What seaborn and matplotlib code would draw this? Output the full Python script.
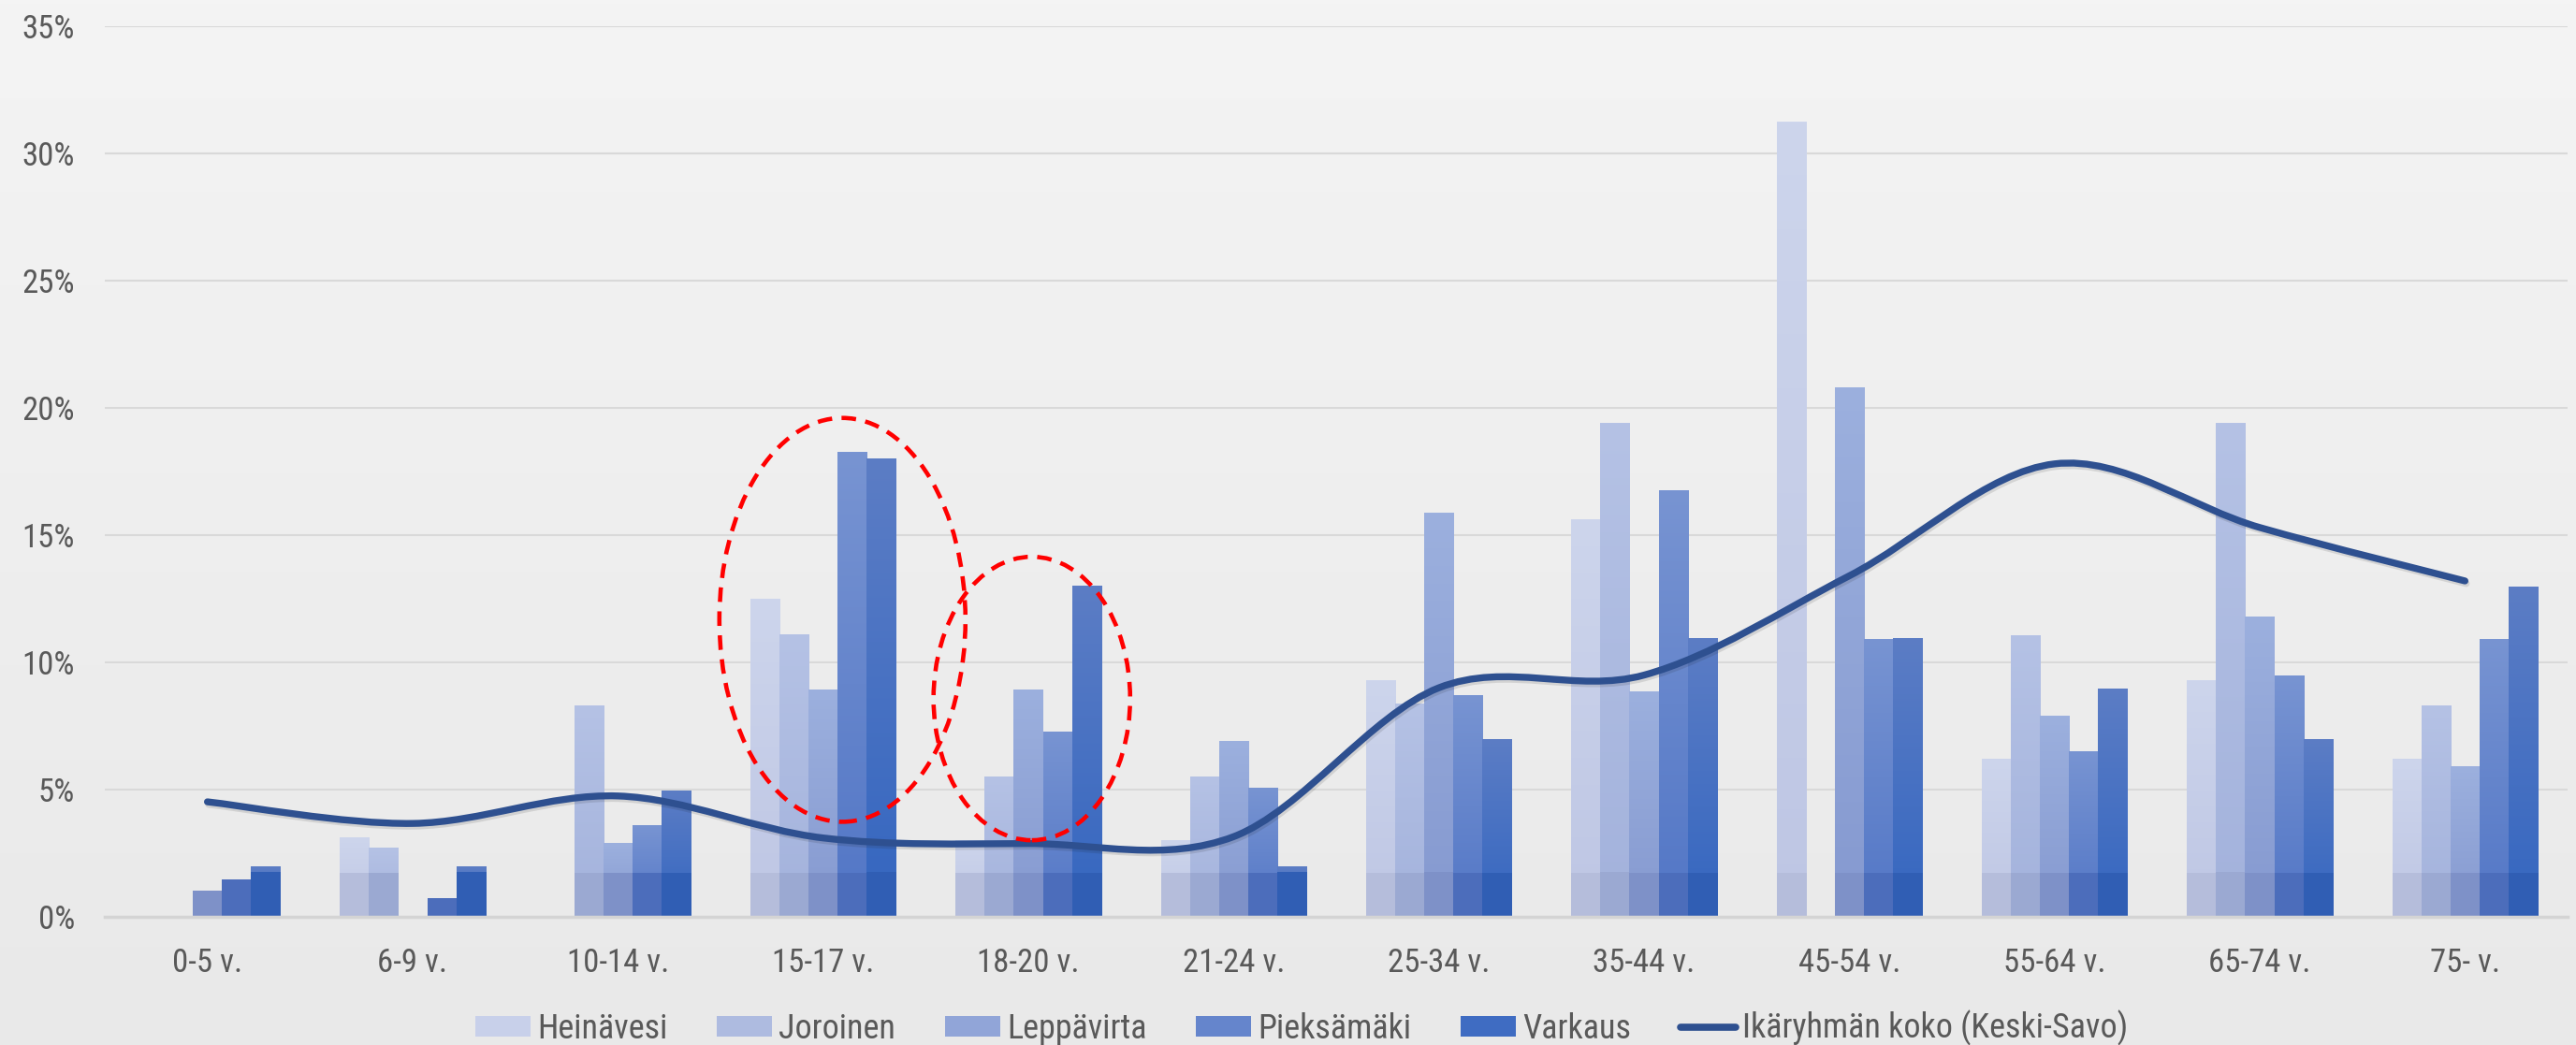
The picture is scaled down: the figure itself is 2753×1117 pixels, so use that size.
import numpy as np
import pandas as pd
import matplotlib
matplotlib.use("Agg")
import matplotlib.pyplot as plt
import seaborn as sns
from matplotlib import font_manager
from matplotlib.path import Path
from matplotlib.patches import PathPatch, Ellipse, Rectangle
from matplotlib.lines import Line2D
from matplotlib.ticker import PercentFormatter, MultipleLocator
import matplotlib.patheffects as pe

# ---------------- data ----------------
ages = ["0-5 v.", "6-9 v.", "10-14 v.", "15-17 v.", "18-20 v.", "21-24 v.",
        "25-34 v.", "35-44 v.", "45-54 v.", "55-64 v.", "65-74 v.", "75- v."]
names = ["Heinävesi", "Joroinen", "Leppävirta", "Pieksämäki", "Varkaus"]
heinavesi = [0.0, 3.1, 0.0, 12.5, 3.0, 3.0, 9.3, 15.6, 31.25, 6.2, 9.3, 6.2]
joroinen = [0.0, 2.7, 8.3, 11.1, 5.5, 5.5, 8.35, 19.4, 0.0, 11.05, 19.4, 8.3]
leppavirta = [1.0, 0.0, 2.9, 8.9, 8.9, 6.9, 15.85, 8.85, 20.8, 7.9, 11.8, 5.9]
pieksamaki = [1.45, 0.7, 3.6, 18.25, 7.25, 5.05, 8.7, 16.75, 10.9, 6.5, 9.45, 10.9]
varkaus = [1.95, 1.95, 4.95, 18.0, 13.0, 1.95, 6.95, 10.95, 10.95, 8.95, 6.95, 12.95]
line_label = "Ikäryhmän koko (Keski-Savo)"
keski_savo = [4.52, 3.67, 4.75, 3.1, 2.88, 3.15, 9.0, 9.5, 13.4, 17.8, 15.3, 13.2]

# red dashed highlight ellipses: (center category pos, center %, width, height)
highlight1 = (3.094, 11.67, 1.199, 15.87)
highlight2 = (4.017, 8.58, 0.958, 11.14)

# ---------------- styles ----------------
mid_cols = {"Heinävesi": "#c8d0ea", "Joroinen": "#aebbe0", "Leppävirta": "#91a5d8",
            "Pieksämäki": "#6585cc", "Varkaus": "#3f6cc2"}
grad_cols = {  # top, bottom, bottom band
    "Heinävesi": ((205, 213, 236), (190, 198, 228), (181, 189, 219)),
    "Joroinen": ((181, 194, 229), (163, 178, 220), (155, 169, 210)),
    "Leppävirta": ((156, 176, 222), (133, 153, 208), (126, 145, 200)),
    "Pieksämäki": ((120, 148, 210), (82, 118, 198), (76, 109, 187)),
    "Varkaus": ((92, 125, 197), (52, 102, 192), (48, 94, 180)),
}
line_color = "#2e5090"
text_color = "#595959"

sns.set_theme(style="white")
available = {f.name for f in font_manager.fontManager.ttflist}
family = next((f for f in ["Liberation Sans Narrow", "Roboto Condensed",
                           "Open Sans Condensed", "DejaVu Sans Condensed",
                           "Liberation Sans"] if f in available), "DejaVu Sans")
plt.rcParams["font.family"] = [family, "DejaVu Sans"]

W, H, dpi = 2753, 1117, 100
fig = plt.figure(figsize=(W / dpi, H / dpi), dpi=dpi)

# background gradient
bg = fig.add_axes([0, 0, 1, 1], zorder=-10)
g = np.linspace(0, 1, 256)[:, None, None]
top = np.array([244, 244, 244]) / 255
bot = np.array([233, 233, 233]) / 255
bg.imshow(top * (1 - g) + bot * g, aspect="auto", extent=(0, 1, 0, 1))
bg.axis("off")

ax = fig.add_axes([112 / W, 1 - 980 / H, (2744 - 112) / W, (980 - 28) / H])
ax.set_facecolor("none")

df = pd.DataFrame({
    "age": np.tile(ages, len(names)),
    "kunta": np.repeat(names, len(ages)),
    "value": np.concatenate([heinavesi, joroinen, leppavirta, pieksamaki, varkaus]),
})
sns.barplot(data=df, x="age", y="value", hue="kunta", order=ages, hue_order=names,
            palette=mid_cols, width=0.707, saturation=1, linewidth=0,
            legend=False, ax=ax, zorder=2)

# gradient fill of bars
for cont, name in zip(ax.containers, names):
    ctop, cbot, cband = [np.array(c) / 255 for c in grad_cols[name]]
    for rect in cont:
        h = rect.get_height()
        if h <= 0:
            continue
        x0, w = rect.get_x(), rect.get_width()
        ys = np.linspace(h, 0, 400)
        t = (ys / h)[:, None]
        col = cbot + (ctop - cbot) * t
        col[ys < 1.72] = cband
        ax.imshow(col[:, None, :], extent=(x0, x0 + w, 0, h), aspect="auto",
                  zorder=2.5, interpolation="nearest")

ax.set_xlim(-0.5, len(ages) - 0.5)
ax.set_ylim(0, 35)

# smoothed line (Bezier through the points)
pts = np.column_stack([np.arange(len(keski_savo)), keski_savo]).astype(float)
n = len(pts)
verts = [pts[0]]
codes = [Path.MOVETO]
for i in range(n - 1):
    p0 = pts[i - 1] if i > 0 else pts[i]
    p1, p2 = pts[i], pts[i + 1]
    p3 = pts[i + 2] if i + 2 < n else pts[i + 1]
    verts += [p1 + (p2 - p0) / 6, p2 - (p3 - p1) / 6, p2]
    codes += [Path.CURVE4] * 3
lp = PathPatch(Path(verts, codes), fill=False, edgecolor=line_color, lw=5.3,
               capstyle="round", joinstyle="round", zorder=4)
lp.set_path_effects([pe.SimpleLineShadow(offset=(1.0, -2.0), shadow_color="k", alpha=0.12),
                     pe.Normal()])
ax.add_patch(lp)

for (cx, cy, ew, eh) in (highlight1, highlight2):
    ax.add_patch(Ellipse((cx, cy), ew, eh, fill=False, edgecolor="#ff0000", lw=3.3,
                         linestyle=(0, (3.4, 2.2)), zorder=5))

# axes styling
ax.yaxis.set_major_locator(MultipleLocator(5))
ax.yaxis.set_major_formatter(PercentFormatter(100, decimals=0))
ax.yaxis.grid(True, color="#d9d9d9", lw=1.5)
ax.set_axisbelow(True)
for s in ("left", "right", "top"):
    ax.spines[s].set_visible(False)
ax.spines["bottom"].set_color("#d4d4d4")
ax.spines["bottom"].set_linewidth(2.5)
ax.tick_params(axis="y", length=0, pad=23, labelsize=25, labelcolor=text_color)
ax.tick_params(axis="x", length=0, pad=24, labelsize=25, labelcolor=text_color)
ax.set_xlabel("")
ax.set_ylabel("")

handles = [Rectangle((0, 0), 1, 1, facecolor=mid_cols[nm], edgecolor="none") for nm in names]
handles.append(Line2D([], [], color=line_color, lw=5.5, solid_capstyle="round"))
fig.legend(handles, names + [line_label], loc="center",
           bbox_to_anchor=(1391 / W, 1 - 1099 / H), ncol=6, frameon=False,
           fontsize=26, handlelength=1.64, handleheight=0.58, handletextpad=0.2,
           columnspacing=1.45, labelcolor=text_color)

fig.savefig("out.png", dpi=dpi)
